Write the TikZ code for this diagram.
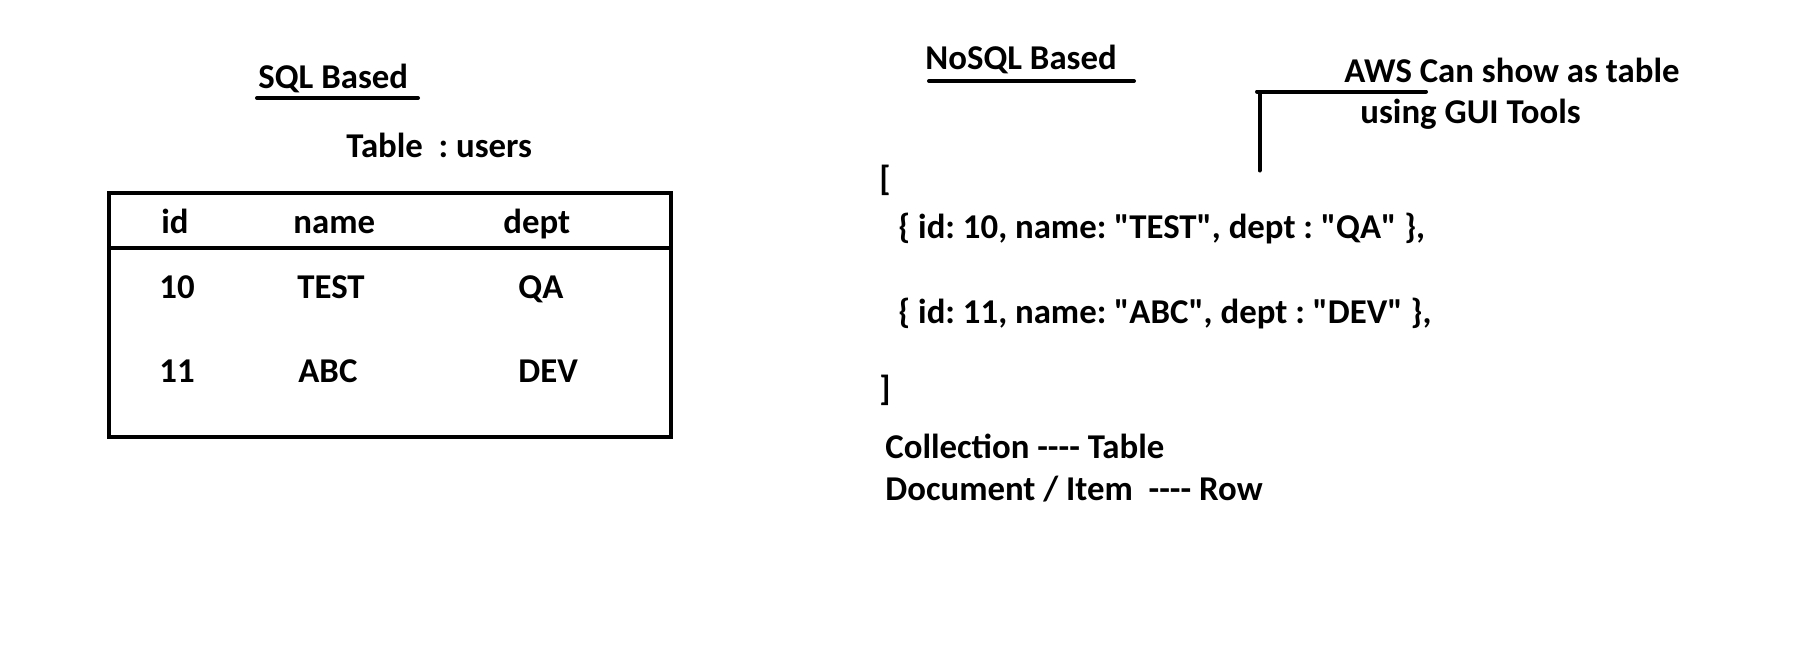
\documentclass[tikz,border=0pt]{standalone}
\usepackage{fontspec}
\setmainfont{Carlito}[BoldFont=Carlito Bold, Ligatures=TeXOff]
\usetikzlibrary{positioning}

\tikzset{
  label text/.style={anchor=base west, inner sep=0pt, font=\fontsize{17.4}{20}\selectfont\bfseries\frenchspacing},
  rule/.style={line width=2pt, line cap=round},
  frame/.style={line width=2pt}
}
\newcommand\dashrun{\mbox{-}\mbox{-}\mbox{-}\mbox{-}}

\begin{document}
\begin{tikzpicture}[x=0.5pt, y=-0.5pt]
  \useasboundingbox (0,0) rectangle (1820,654);

  % SQL side
  \node [label text] (sqltitle) at (258,88) {SQL Based};
  \coordinate (sqlu1) at (257,98);
  \coordinate (sqlu2) at (418,98);
  \node [label text] (tabname) at (346,157) {Table~~: users};

  % table frame
  \coordinate (tl) at (109,193);
  \coordinate (br) at (671,437);
  \coordinate (hl) at (109,248);
  \coordinate (hr) at (671,248);

  % header row
  \node [label text] (hid) at (161,233) {id};
  \node [label text] (hname) at (293,233) {name};
  \node [label text] (hdept) at (503,233) {dept};

  % data rows
  \node [label text] (r1id) at (159,298) {10};
  \node [label text] (r1name) at (297,298) {TEST};
  \node [label text] (r1dept) at (518,298) {QA};
  \node [label text] (r2id) at (159,382) {11};
  \node [label text] (r2name) at (298,382) {ABC};
  \node [label text] (r2dept) at (518,382) {DEV};

  % NoSQL side
  \node [label text] (nosqltitle) at (925,69) {NoSQL Based};
  \coordinate (nosqlu1) at (929,81);
  \coordinate (nosqlu2) at (1134,81);

  \node [label text] (aws1) at (1344,82) {AWS Can show as table};
  \node [label text] (aws2) at (1360,123) {using GUI Tools};
  \coordinate (awsend) at (1426,91.5);
  \coordinate (awscorner) at (1257,91.5);
  \coordinate (awstop) at (1259.5,93);
  \coordinate (awsfoot) at (1259.5,170.5);

  \node [label text] (open) at (879,190) {[};
  \node [label text] (doc1) at (898,238) {\{ id: 10, name: "TEST", dept : "QA" \},};
  \node [label text] (doc2) at (898,323) {\{ id: 11, name: "ABC", dept : "DEV" \},};
  \node [label text] (close) at (879,400) {]};

  \node [label text] (map1) at (885,458) {Collection \dashrun{} Table};
  \node [label text] (map2) at (885,500) {Document / Item~~\dashrun{} Row};

  % lines
  \draw [rule] (sqlu1) -- (sqlu2);
  \draw [rule] (nosqlu1) -- (nosqlu2);
  \draw [frame] (tl) rectangle (br);
  \draw [frame] (hl) -- (hr);
  \draw [rule] (awscorner) -- (awsend);
  \draw [rule] (awstop) -- (awsfoot);
\end{tikzpicture}
\end{document}
